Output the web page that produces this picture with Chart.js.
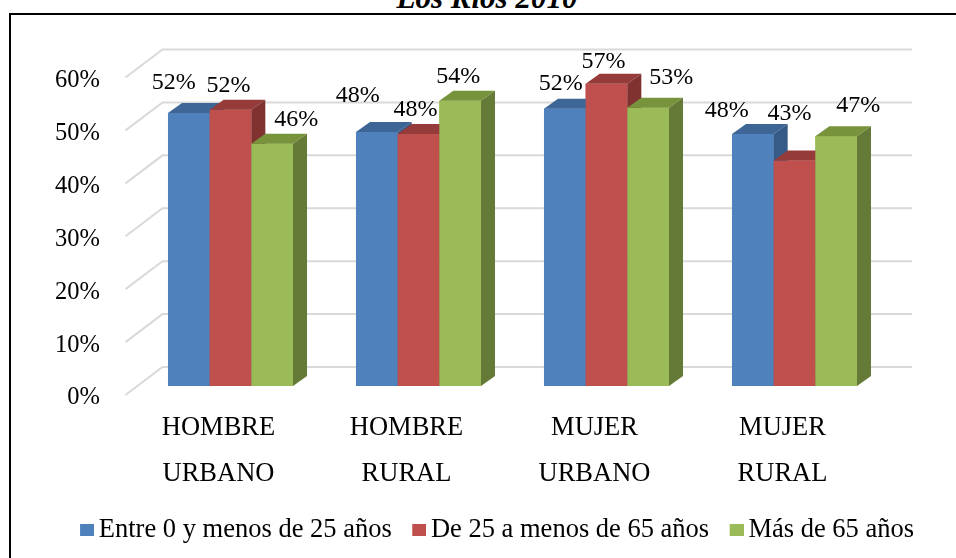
<!DOCTYPE html>
<html><head><meta charset="utf-8">
<script src="https://cdn.jsdelivr.net/npm/chart.js@4"></script>
<style>
html,body{margin:0;padding:0;background:#fff;overflow:hidden;}
#wrap{position:relative;width:956px;height:558px;overflow:hidden;background:#fff;}
#frame{position:absolute;left:9px;top:13px;width:1000px;height:600px;border:2px solid #000;box-sizing:border-box;}
#title{position:absolute;left:9px;top:-17px;width:956px;text-align:center;font:italic bold 31px "Liberation Serif","Times New Roman",serif;line-height:30px;color:#000;white-space:nowrap;}
canvas{position:absolute;left:0;top:0;}
</style></head><body>
<div id="wrap"><div id="frame"></div><div id="title">Los Ríos 2010</div><canvas id="c" width="956" height="558"></canvas></div>
<script>
const categories = [['HOMBRE','URBANO'],['HOMBRE','RURAL'],['MUJER','URBANO'],['MUJER','RURAL']];
const seriesNames = ['Entre 0 y menos de 25 años','De 25 a menos de 65 años','Más de 65 años'];
const entre0y25 = [51.6, 48.0, 52.4, 47.6];
const de25a65 = [52.2, 47.6, 57.1, 42.6];
const mas65 = [45.8, 53.9, 52.6, 47.2];
const yTicks = [0, 10, 20, 30, 40, 50, 60];

const FONT = '"Liberation Serif","Times New Roman",serif';
const faceColors = [
  {front:'#4f81bd', top:'#3d6696', side:'#375b87'},
  {front:'#c0504d', top:'#953b39', side:'#7f3230'},
  {front:'#9bbb59', top:'#77933c', side:'#657a37'}
];
const depth = {dx: 14, dy: 10};
const wall = {dx: 26, dy: 19, fx: -11, fy: 9, rx: 23.5};
// per-point label nudges (px) mimicking the original label placement
const labelNudge = [
  [[-15,-6],[-19,-12],[-4,-1],[-26,1]],
  [[-2,0],[-3,0],[-3,2],[-5,-23]],
  [[24,0],[-2,0],[23,-6],[22,-7]]
];

// legend marker: small square placed at the right edge of its image so it sits close to the text
function legendMarker(color) {
  const cv = document.createElement('canvas');
  cv.width = 18; cv.height = 12;
  const c = cv.getContext('2d');
  c.fillStyle = color;
  c.fillRect(4, 0, 14, 12);
  return cv;
}

const threeD = {
  id: 'threeD',
  beforeDatasetsDraw(chart) {
    const ctx = chart.ctx, ys = chart.scales.y, a = chart.chartArea;
    ctx.save();
    ctx.strokeStyle = '#d9d9d9';
    ctx.lineWidth = 2;
    yTicks.forEach(v => {
      const py = ys.getPixelForValue(v);
      ctx.beginPath();
      ctx.moveTo(a.left + wall.fx, py + wall.fy);
      ctx.lineTo(a.left + wall.dx, py - wall.dy);
      ctx.lineTo(a.right + wall.rx, py - wall.dy);
      ctx.stroke();
    });
    ctx.restore();
  },
  afterDatasetsDraw(chart) {
    const ctx = chart.ctx;
    const n = chart.data.labels.length;
    const nd = chart.data.datasets.length;
    ctx.save();
    for (let i = 0; i < n; i++) {
      for (let d = 0; d < nd; d++) {
        const el = chart.getDatasetMeta(d).data[i];
        const c = faceColors[d];
        const x0 = el.x - el.width / 2, x1 = el.x + el.width / 2;
        const top = el.y, base = el.base;
        ctx.fillStyle = c.front;
        ctx.fillRect(x0, top, x1 - x0, base - top);
        ctx.fillStyle = c.top;
        ctx.beginPath();
        ctx.moveTo(x0, top); ctx.lineTo(x1, top);
        ctx.lineTo(x1 + depth.dx, top - depth.dy); ctx.lineTo(x0 + depth.dx, top - depth.dy);
        ctx.closePath(); ctx.fill();
        ctx.fillStyle = c.side;
        ctx.beginPath();
        ctx.moveTo(x1, top); ctx.lineTo(x1 + depth.dx, top - depth.dy);
        ctx.lineTo(x1 + depth.dx, base - depth.dy); ctx.lineTo(x1, base);
        ctx.closePath(); ctx.fill();
      }
    }
    ctx.fillStyle = '#000';
    ctx.font = '24px ' + FONT;
    ctx.textAlign = 'center';
    ctx.textBaseline = 'middle';
    for (let d = 0; d < nd; d++) {
      const ds = chart.data.datasets[d];
      chart.getDatasetMeta(d).data.forEach((el, i) => {
        const nz = labelNudge[d][i];
        ctx.fillText(Math.round(ds.data[i]) + '%', el.x + nz[0], el.y - 24 + nz[1]);
      });
    }
    ctx.restore();
  }
};

new Chart(document.getElementById('c'), {
  type: 'bar',
  data: {
    labels: categories,
    datasets: [
      {label: seriesNames[0], data: entre0y25, backgroundColor: faceColors[0].front, borderWidth: 0, pointStyle: legendMarker(faceColors[0].front)},
      {label: seriesNames[1], data: de25a65, backgroundColor: faceColors[1].front, borderWidth: 0, pointStyle: legendMarker(faceColors[1].front)},
      {label: seriesNames[2], data: mas65, backgroundColor: faceColors[2].front, borderWidth: 0, pointStyle: legendMarker(faceColors[2].front)}
    ]
  },
  options: {
    responsive: false,
    animation: false,
    devicePixelRatio: 1,
    events: [],
    categoryPercentage: 0.665,
    barPercentage: 1,
    layout: {padding: {left: 10, right: 17, top: 68.5, bottom: 4.75}},
    plugins: {
      tooltip: {enabled: false},
      title: {display: false},
      legend: {
        position: 'bottom',
        align: 'end',
        labels: {color: '#000', font: {family: FONT, size: 26.5}, usePointStyle: true, boxWidth: 1, boxHeight: 12, padding: 25}
      }
    },
    scales: {
      x: {
        grid: {display: false, drawTicks: false},
        border: {display: false},
        ticks: {color: '#000', font: {family: FONT, size: 26.5, lineHeight: 1.74}, padding: 19, labelOffset: -12, maxRotation: 0, autoSkip: false},
        afterFit(s) { s.height = 105.75; }
      },
      y: {
        min: 0, max: 60,
        grid: {display: false, drawTicks: false},
        border: {display: false},
        ticks: {color: '#000', font: {family: FONT, size: 24.5}, stepSize: 10, padding: 36.5, labelOffset: 12, callback: v => v + '%'},
        afterFit(s) { s.width = 126.5; }
      },
      yRight: {
        position: 'right',
        display: true,
        grid: {display: false, drawTicks: false},
        border: {display: false},
        ticks: {display: false},
        afterFit(s) { s.width = 50.5; }
      }
    }
  },
  plugins: [threeD]
});
</script>
</body></html>
